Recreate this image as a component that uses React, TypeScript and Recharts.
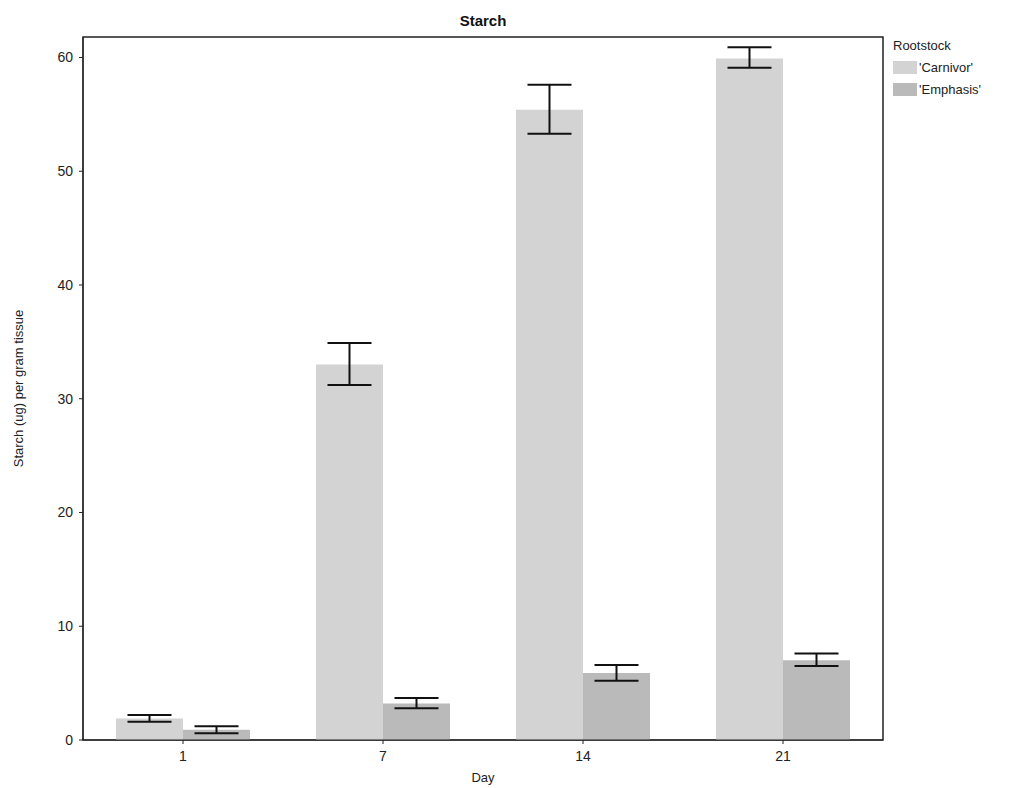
import React from 'react';
import { BarChart, Bar, XAxis, YAxis, ErrorBar, ReferenceArea } from 'recharts';

const days = ['1', '7', '14', '21'];
const carnivorMean = [1.9, 33.0, 55.4, 59.9];
const carnivorLow = [1.6, 31.2, 53.3, 59.1];
const carnivorHigh = [2.2, 34.9, 57.6, 60.9];
const emphasisMean = [0.9, 3.2, 5.9, 7.0];
const emphasisLow = [0.6, 2.8, 5.2, 6.5];
const emphasisHigh = [1.2, 3.7, 6.6, 7.6];
const yTicks = [0, 10, 20, 30, 40, 50, 60];
const legendTitle = 'Rootstock';
const seriesNames = ["'Carnivor'", "'Emphasis'"];

const data = days.map((d, i) => ({
  day: d,
  carnivor: carnivorMean[i],
  emphasis: emphasisMean[i],
  cErr: [carnivorMean[i] - carnivorLow[i], carnivorHigh[i] - carnivorMean[i]],
  eErr: [emphasisMean[i] - emphasisLow[i], emphasisHigh[i] - emphasisMean[i]],
}));

const FONT = '"Liberation Sans", Arial, sans-serif';
const C1 = '#d3d3d3';
const C2 = '#bababa';
const colors = [C1, C2];

export default function App() {
  return (
    <div style={{ position: 'absolute', left: 0, top: 0, width: 1032, height: 788, background: '#fff' }}>
      <div style={{ position: 'absolute', left: 83, width: 800, top: 12, textAlign: 'center', fontFamily: FONT, fontWeight: 'bold', fontSize: 15, color: '#111' }}>Starch</div>
      <div style={{ position: 'absolute', left: 893, top: 36, fontFamily: FONT, fontSize: 13, color: '#222' }}>
        <div style={{ height: 20, lineHeight: '20px' }}>{legendTitle}</div>
        {seriesNames.map((name, i) => (
          <div key={name} style={{ display: 'flex', alignItems: 'center', height: 22 }}>
            <span style={{ display: 'inline-block', width: 24, height: 13, background: colors[i], marginRight: 2 }} />
            <span>{name}</span>
          </div>
        ))}
      </div>
      <BarChart
        width={1032}
        height={788}
        data={data}
        margin={{ top: 37, right: 149, bottom: 0, left: 0 }}
        barCategoryGap="16.5%"
        barGap={0}
      >
        <XAxis
          dataKey="day"
          height={48}
          tickSize={4}
          tickMargin={7}
          stroke="#222"
          tick={{ fill: '#222', fontFamily: FONT, fontSize: 14 }}
          label={{ value: 'Day', position: 'insideBottom', offset: 6, fill: '#222', fontFamily: FONT, fontSize: 13 }}
        />
        <YAxis
          width={83}
          domain={[0, 61.8]}
          ticks={yTicks}
          tickSize={4}
          tickMargin={6}
          stroke="#222"
          tick={{ fill: '#222', fontFamily: FONT, fontSize: 14 }}
          label={{ value: 'Starch (ug) per gram tissue', angle: -90, position: 'insideLeft', offset: 18, style: { textAnchor: 'middle' }, fill: '#222', fontFamily: FONT, fontSize: 13 }}
        />
        <ReferenceArea y1={0} y2={61.8} fill="none" stroke="#222" strokeWidth={1.5} ifOverflow="visible" />
        <Bar dataKey="carnivor" fill={C1} isAnimationActive={false}>
          <ErrorBar dataKey="cErr" width={22} strokeWidth={2} stroke="#111" isAnimationActive={false} />
        </Bar>
        <Bar dataKey="emphasis" fill={C2} isAnimationActive={false}>
          <ErrorBar dataKey="eErr" width={22} strokeWidth={2} stroke="#111" isAnimationActive={false} />
        </Bar>
      </BarChart>
    </div>
  );
}
